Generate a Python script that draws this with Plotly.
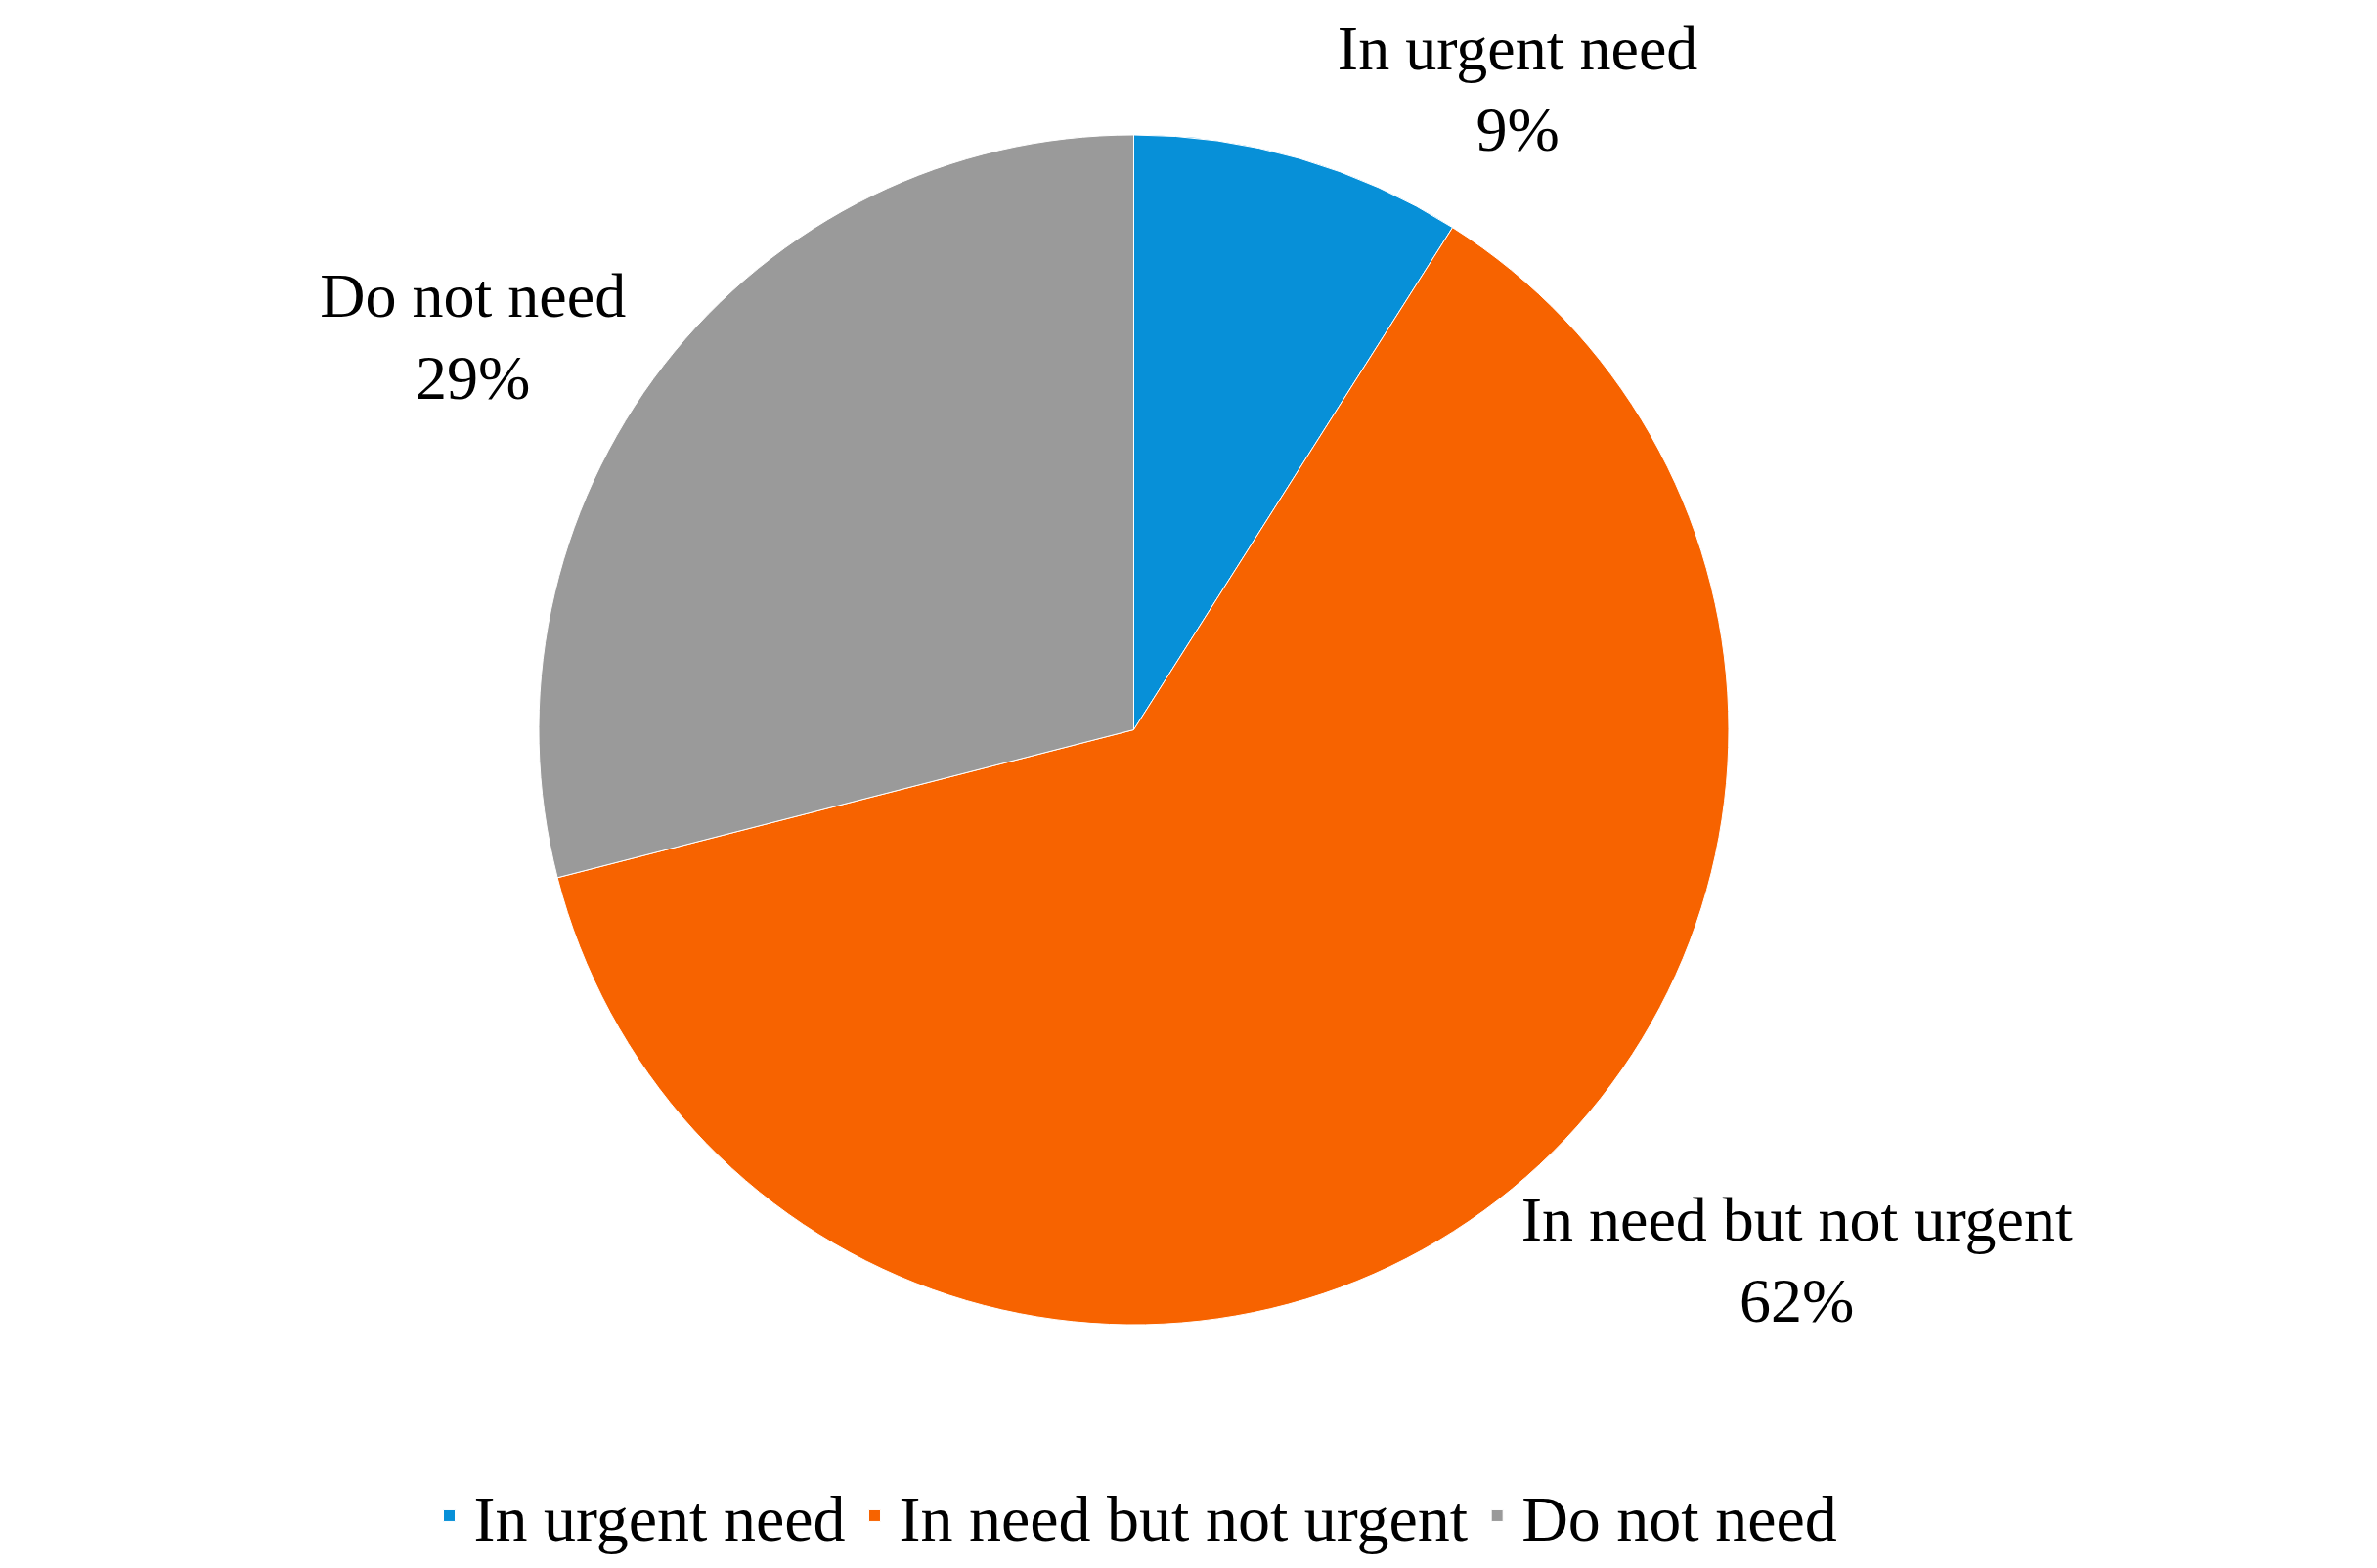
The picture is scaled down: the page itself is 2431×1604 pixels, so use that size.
import plotly.graph_objects as go

labels = ["In urgent need", "In need but not urgent", "Do not need"]
values = [9, 62, 29]
colors = ["#0790d8", "#f76300", "#9a9a9a"]

fig = go.Figure(go.Pie(
    labels=labels, values=values, sort=False, direction="clockwise", rotation=0,
    marker=dict(colors=colors, line=dict(color="white", width=1)),
    textinfo="label+percent", textposition="outside",
    texttemplate="%{label}<br>%{percent:.0%}",
    textfont=dict(family="Liberation Serif", size=64, color="black"),
    hoverinfo="skip",
))

fig.update_layout(
    width=2431, height=1604,
    paper_bgcolor="white",
    font=dict(family="Liberation Serif", size=64, color="black"),
    margin=dict(l=300, r=300, t=130, b=250),
    legend=dict(orientation="h", x=0.5, xanchor="center", y=-0.12, yanchor="top",
                font=dict(size=66), itemwidth=40, tracegroupgap=60),
    showlegend=True,
)

fig.write_html("out.html")
